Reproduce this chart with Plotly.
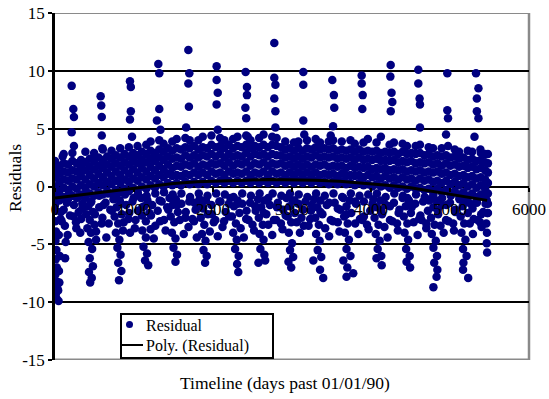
import plotly.graph_objects as go

# ---------------- data ----------------
# dense band of residuals: column day -> residual values
band_days = [0, 55, 110, 165, 220, 275, 330, 385, 440, 495, 550, 605, 660, 715, 770, 825, 880, 935, 990,
             1045, 1100, 1155, 1210, 1265, 1320, 1375, 1430, 1485, 1540, 1595, 1650, 1705, 1760, 1815, 1870,
             1925, 1980, 2035, 2090, 2145, 2200, 2255, 2310, 2365, 2420, 2475, 2530, 2585, 2640, 2695, 2750,
             2805, 2860, 2915, 2970, 3025, 3080, 3135, 3190, 3245, 3300, 3355, 3410, 3465, 3520, 3575, 3630,
             3685, 3740, 3795, 3850, 3905, 3960, 4015, 4070, 4125, 4180, 4235, 4290, 4345, 4400, 4455, 4510,
             4565, 4620, 4675, 4730, 4785, 4840, 4895, 4950, 5005, 5060, 5115, 5170, 5225, 5280, 5335, 5390,
             5445, 5480]
band_vals = [
    [-1.6, -0.8, 0.0, 0.8, 1.5, 2.2], [-1.2, -0.4, 0.4, 1.1, 1.8], [-0.9, -0.1, 0.6, 1.3, 2.0, 2.8],
    [-1.1, -0.3, 0.5, 1.2, 1.9], [-0.8, 0.0, 0.7, 1.4, 2.2, 2.9], [-1.0, -0.2, 0.6, 1.3, 2.0],
    [-0.7, 0.1, 0.9, 1.6, 2.3], [-0.9, -0.1, 0.6, 1.4, 2.1, 3.0], [-0.6, 0.2, 1.0, 1.7, 2.4],
    [-0.8, 0.0, 0.7, 1.5, 2.2, 2.9], [-0.5, 0.3, 1.1, 1.8, 2.5], [-0.7, 0.1, 0.8, 1.6, 2.3, 3.2],
    [-0.4, 0.4, 1.2, 1.9, 2.6], [-0.6, 0.2, 0.9, 1.7, 2.4, 3.1], [-0.3, 0.5, 1.3, 2.0, 2.7],
    [-0.5, 0.3, 1.0, 1.8, 2.5, 3.3], [-0.2, 0.6, 1.4, 2.1, 2.8], [-0.4, 0.4, 1.1, 1.9, 2.6, 3.4],
    [-0.1, 0.7, 1.5, 2.2, 2.9],
    [-0.3, 0.5, 1.2, 2.0, 2.7, 3.5], [0.0, 0.8, 1.6, 2.3, 3.0], [-0.2, 0.6, 1.3, 2.1, 2.8, 3.6],
    [0.1, 0.9, 1.7, 2.4, 3.1, 3.9], [-0.1, 0.7, 1.4, 2.2, 2.9], [0.2, 1.0, 1.8, 2.5, 3.2, 4.0],
    [0.0, 0.8, 1.5, 2.3, 3.0, 3.7], [0.3, 1.1, 1.9, 2.6, 3.3], [0.1, 0.9, 1.6, 2.4, 3.1, 3.9],
    [0.3, 1.0, 1.8, 2.5, 3.3, 4.1], [0.1, 0.9, 1.7, 2.4, 3.2], [0.4, 1.1, 1.9, 2.7, 3.4, 4.2],
    [0.2, 1.0, 1.8, 2.5, 3.3, 4.0], [0.4, 1.2, 2.0, 2.7, 3.5], [0.2, 1.0, 1.7, 2.5, 3.2, 4.0],
    [0.4, 1.2, 1.9, 2.7, 3.4, 4.3], [0.2, 1.0, 1.8, 2.6, 3.3], [0.5, 1.3, 2.0, 2.8, 3.6, 4.4],
    [0.3, 1.1, 1.9, 2.6, 3.4], [0.5, 1.2, 2.0, 2.8, 3.5, 4.2], [0.3, 1.0, 1.8, 2.5, 3.3, 4.0],
    [0.5, 1.3, 2.1, 2.8, 3.6], [0.3, 1.1, 1.8, 2.6, 3.3, 4.1], [0.5, 1.2, 2.0, 2.7, 3.5, 4.3],
    [0.3, 1.1, 1.9, 2.6, 3.4], [0.5, 1.3, 2.1, 2.9, 3.6, 4.4], [0.3, 1.0, 1.8, 2.6, 3.3, 4.0],
    [0.5, 1.2, 2.0, 2.8, 3.5], [0.3, 1.1, 1.9, 2.7, 3.4, 4.2], [0.5, 1.3, 2.1, 2.8, 3.6, 4.5],
    [0.3, 1.0, 1.8, 2.6, 3.4], [0.5, 1.3, 2.0, 2.8, 3.6, 4.3], [0.3, 1.1, 1.9, 2.7, 3.5, 4.2],
    [0.5, 1.2, 2.0, 2.7, 3.4], [0.3, 1.0, 1.8, 2.5, 3.2, 3.9], [0.5, 1.2, 1.9, 2.6, 3.3],
    [0.3, 1.0, 1.7, 2.4, 3.1, 3.8], [0.5, 1.2, 1.9, 2.6, 3.3, 3.9], [0.3, 1.0, 1.7, 2.4, 3.1],
    [0.5, 1.2, 1.9, 2.6, 3.3, 4.0], [0.3, 1.0, 1.7, 2.5, 3.2], [0.5, 1.2, 1.9, 2.7, 3.4, 4.1],
    [0.3, 1.0, 1.8, 2.5, 3.2, 3.8], [0.4, 1.1, 1.9, 2.6, 3.3], [0.2, 1.0, 1.7, 2.5, 3.2, 3.9],
    [0.4, 1.1, 1.8, 2.6, 3.3, 4.0], [0.2, 0.9, 1.7, 2.4, 3.1], [0.4, 1.1, 1.8, 2.5, 3.2, 3.9],
    [0.2, 0.9, 1.6, 2.4, 3.1], [0.3, 1.0, 1.8, 2.5, 3.2, 4.0], [0.1, 0.9, 1.6, 2.3, 3.0, 3.7],
    [0.3, 1.0, 1.7, 2.5, 3.2], [0.1, 0.8, 1.6, 2.3, 3.0, 3.8], [0.2, 1.0, 1.7, 2.4, 3.1, 4.1],
    [0.0, 0.8, 1.5, 2.3, 3.0], [0.2, 0.9, 1.6, 2.4, 3.1, 3.8], [0.0, 0.7, 1.5, 2.2, 2.9, 4.3],
    [0.1, 0.9, 1.6, 2.3, 3.0], [-0.1, 0.7, 1.4, 2.2, 2.9, 3.6], [0.1, 0.8, 1.5, 2.3, 3.0, 3.8],
    [-0.1, 0.6, 1.4, 2.1, 2.8], [0.0, 0.8, 1.5, 2.2, 3.0, 3.7], [-0.2, 0.6, 1.3, 2.1, 2.8, 3.5],
    [0.0, 0.7, 1.4, 2.2, 2.9], [-0.2, 0.5, 1.3, 2.0, 2.8, 3.5], [-0.1, 0.7, 1.4, 2.1, 2.9, 3.6],
    [-0.3, 0.5, 1.2, 2.0, 2.7], [-0.2, 0.6, 1.3, 2.1, 2.8, 3.4], [-0.4, 0.4, 1.2, 1.9, 2.6, 3.3],
    [-0.2, 0.5, 1.3, 2.0, 2.7], [-0.5, 0.3, 1.1, 1.8, 2.6, 3.3], [-0.3, 0.5, 1.2, 2.0, 2.7, 4.5],
    [-0.6, 0.2, 1.0, 1.8, 2.5], [-0.4, 0.4, 1.1, 1.9, 2.6, 3.2], [-0.7, 0.1, 0.9, 1.7, 2.4, 3.0],
    [-0.5, 0.3, 1.0, 1.8, 2.5], [-0.8, 0.0, 0.8, 1.6, 2.3, 3.1], [-0.6, 0.2, 0.9, 1.7, 2.4, 3.0],
    [-0.9, -0.1, 0.7, 1.5, 2.2], [-0.7, 0.1, 0.8, 1.6, 2.3, 2.9], [-1.0, -0.2, 0.6, 1.4, 2.1, 2.8],
    [-2.3, -1.5, -0.6, 0.3, 1.2, 2.0, 2.8],
]

# high outliers (yearly streaks)
hi_days = [211, 232, 240, 211, 240, 97,
           578, 585, 592, 592, 600,
           949, 960, 960, 949, 975,
           1308, 1320, 1320, 1290, 1335,
           1688, 1700, 1688, 1695, 1660,
           2046, 2046, 2060, 2046, 2060,
           2413, 2430, 2430, 2410, 2420, 2440,
           2776, 2776, 2790, 2776, 2790, 2790,
           3143, 3143, 3143, 3155,
           3510, 3530, 3535, 3520, 3490,
           3882, 3882, 3895, 3890,
           4249, 4245, 4260, 4270, 4250,
           4599, 4599, 4615, 4620, 4620,
           4966, 4966, 4975, 4975,
           5329, 5360, 5340, 5340, 5360, 5310, 5385]
hi_vals = [8.7, 6.7, 6.0, 4.7, 3.5, 2.6,
           7.8, 7.0, 6.0, 4.4, 3.3,
           9.1, 8.6, 6.5, 5.8, 4.3,
           10.6, 9.8, 6.7, 5.7, 4.9,
           11.8, 9.8, 8.9, 6.9, 5.1,
           10.4, 9.2, 8.1, 7.1, 4.9,
           9.9, 8.6, 7.9, 6.8, 5.9, 4.3,
           12.4, 9.4, 8.8, 7.6, 6.5, 5.1,
           9.9, 8.8, 5.7, 4.5,
           9.2, 7.9, 6.8, 5.2, 4.4,
           9.6, 8.9, 7.9, 6.7,
           10.5, 9.5, 8.1, 7.3, 6.5,
           10.1, 8.9, 7.6, 7.1, 5.1,
           9.8, 6.6, 5.9, 3.5,
           9.8, 8.5, 7.6, 6.5, 5.9, 4.3, 3.2]

# low residuals (yearly streaks and scatter below zero)
lo_days = [3, 8, 4, 12, 6, 18, 9, 24, 5, 16, 30, 10, 22, 45, 40, 55, 50, 60, 48, 70, 110, 125, 135, 128, 150, 190, 240, 265, 300, 320, 345,
           380, 420, 460, 395, 440, 480, 410, 455, 500, 425, 470, 440, 480, 430, 465, 445, 520, 560, 600, 640, 680, 700,
           740, 780, 820, 755, 800, 845, 770, 815, 790, 830, 800, 840, 810, 860, 900, 930, 980, 1010, 1050,
           1090, 1130, 1170, 1100, 1150, 1195, 1105, 1150, 1120, 1165, 1140, 1180, 1230, 1270, 1300, 1350, 1380, 1420,
           1450, 1490, 1530, 1465, 1510, 1555, 1480, 1525, 1500, 1545, 1525, 1600, 1650, 1700, 1760, 1795, 1780, 1820,
           1830, 1870, 1910, 1845, 1890, 1935, 1860, 1905, 1880, 1920, 1900, 1980, 2030, 2080, 2120, 2160, 2200,
           2220, 2265, 2310, 2240, 2290, 2335, 2255, 2300, 2280, 2325, 2305, 2320, 2370, 2420, 2470, 2500, 2540,
           2570, 2610, 2650, 2580, 2630, 2675, 2590, 2640, 2600, 2650, 2575, 2660, 2720, 2770, 2820, 2860, 2890,
           2930, 2970, 3010, 2945, 2990, 3035, 2960, 3000, 2975, 3015, 2955, 2990, 3080, 3120, 3170, 3210, 3240,
           3280, 3320, 3360, 3295, 3340, 3385, 3305, 3350, 3325, 3370, 3270, 3355, 3395, 3440, 3490, 3540, 3580, 3610,
           3650, 3690, 3730, 3660, 3705, 3750, 3670, 3720, 3690, 3740, 3650, 3700, 3690, 3775, 3810, 3860, 3910, 3950, 3990,
           4030, 4075, 4120, 4045, 4095, 4140, 4060, 4110, 4085, 4130, 4070, 4135, 4190, 4240, 4290, 4330, 4360,
           4400, 4440, 4480, 4415, 4460, 4505, 4425, 4470, 4445, 4490, 4450, 4495, 4560, 4610, 4660, 4700, 4720,
           4750, 4790, 4830, 4760, 4805, 4850, 4770, 4820, 4790, 4835, 4800, 4840, 4830, 4790, 4900, 4950, 5000, 5040, 5070,
           5120, 5160, 5200, 5135, 5180, 5225, 5145, 5195, 5165, 5210, 5170, 5165, 5230, 5260, 5300, 5340, 5380, 5420,
           5465, 5470, 5460, 5468, 5465, 5470]
lo_vals = [-1.2, -2.1, -3.0, -3.9, -4.7, -5.5, -6.3, -7.0, -7.6, -8.2, -8.8, -9.3, -9.7, -9.9, -9.0, -8.3, -7.3, -6.0, -4.2, -2.8, -2.0, -3.4, -4.8, -6.2, -1.4, -2.5, -1.6, -3.1, -2.2, -4.0, -1.5,
           -1.0, -1.7, -1.3, -2.4, -2.9, -2.2, -3.6, -4.0, -3.3, -4.8, -5.4, -6.2, -6.9, -7.4, -7.9, -8.3, -4.6, -1.8, -2.7, -1.4, -3.2, -2.0,
           -1.1, -1.8, -1.2, -2.6, -3.2, -2.4, -4.0, -4.6, -5.3, -5.9, -6.6, -7.3, -8.1, -3.8, -1.6, -2.8, -1.3, -3.6, -2.1,
           -1.0, -1.7, -1.2, -2.5, -3.0, -2.3, -3.8, -4.4, -5.2, -5.8, -6.4, -6.8, -1.6, -3.4, -2.1, -1.3, -2.9, -1.8,
           -1.0, -1.6, -1.1, -2.6, -3.1, -2.2, -4.0, -4.5, -5.3, -5.9, -6.5, -1.5, -2.7, -1.3, -3.0, -4.4, -2.0, -1.4,
           -1.1, -1.8, -1.2, -2.7, -3.3, -2.4, -4.1, -4.7, -5.5, -6.0, -6.6, -1.6, -2.9, -1.3, -3.5, -2.2, -1.5,
           -1.0, -1.7, -1.2, -2.6, -3.2, -2.3, -4.0, -4.6, -5.4, -6.0, -6.7, -7.4, -1.5, -2.8, -1.4, -3.3, -2.1,
           -1.1, -1.8, -1.2, -2.7, -3.3, -2.4, -4.1, -4.6, -5.4, -5.9, -6.6, -6.4, -1.6, -2.9, -1.4, -3.2, -2.0,
           -1.0, -1.7, -1.2, -2.6, -3.1, -2.3, -4.0, -4.9, -5.5, -6.1, -6.5, -7.0, -1.5, -2.7, -1.3, -3.4, -2.1,
           -1.1, -1.8, -1.2, -2.7, -3.3, -2.4, -4.1, -4.7, -5.5, -6.1, -6.4, -7.2, -7.9, -1.6, -2.9, -1.4, -3.1, -2.0,
           -1.0, -1.7, -1.2, -2.6, -3.2, -2.3, -4.0, -4.6, -5.4, -6.0, -6.4, -7.0, -7.8, -7.5, -1.5, -2.8, -1.3, -3.3, -2.1,
           -1.1, -1.8, -1.2, -2.7, -3.3, -2.4, -4.1, -4.7, -5.4, -6.0, -6.2, -6.8, -1.6, -2.9, -1.4, -3.2, -2.0,
           -1.0, -1.7, -1.2, -2.6, -3.2, -2.3, -4.0, -4.6, -5.4, -6.0, -6.5, -7.0, -1.5, -2.8, -1.3, -3.2, -2.1,
           -1.1, -1.8, -1.2, -2.7, -3.3, -2.4, -4.1, -4.7, -5.3, -6.0, -6.6, -7.2, -7.8, -8.7, -1.6, -2.9, -1.4, -3.2, -2.0,
           -1.0, -1.7, -1.2, -2.6, -3.2, -2.3, -4.0, -4.6, -5.4, -6.0, -6.6, -7.2, -7.9, -1.5, -2.8, -1.4, -3.1, -2.2,
           -1.2, -2.3, -3.2, -4.0, -4.9, -5.7]

# extra scatter just below zero
mid_days = [20, 75, 130, 180, 235, 290, 345, 395, 450, 505, 560, 615, 670, 720, 775, 830, 885, 940, 995, 1050,
            1105, 1160, 1215, 1270, 1325, 1380, 1435, 1490, 1545, 1600, 1655, 1710, 1765, 1820, 1875, 1930, 1985, 2040, 2095, 2150,
            2205, 2260, 2315, 2370, 2425, 2480, 2535, 2590, 2645, 2700, 2755, 2810, 2865, 2920, 2975, 3030, 3085, 3140, 3195, 3250,
            3305, 3360, 3415, 3470, 3525, 3580, 3635, 3690, 3745, 3800, 3855, 3910, 3965, 4020, 4075, 4130, 4185, 4240, 4295, 4350,
            4405, 4460, 4515, 4570, 4625, 4680, 4735, 4790, 4845, 4900, 4955, 5010, 5065, 5120, 5175, 5230, 5285, 5340, 5395, 5450]
mid_vals = [-0.7, -2.2, -1.1, -0.6, -2.6, -0.9, -1.9, -0.5, -1.4, -2.4,
            -0.8, -1.6, -0.6, -2.1, -0.9, -1.5, -0.7, -2.3, -1.0, -0.6,
            -1.8, -0.8, -2.5, -0.6, -1.2, -0.5, -2.0, -0.7, -1.6, -0.6,
            -2.2, -0.9, -1.4, -0.6, -1.9, -0.8, -2.4, -0.6, -1.3, -0.7,
            -2.6, -0.9, -1.5, -0.6, -2.1, -0.8, -1.7, -0.6, -2.3, -1.0,
            -0.6, -1.8, -0.8, -2.5, -0.6, -1.2, -0.7, -2.0, -0.9, -1.6,
            -0.6, -2.2, -0.8, -1.4, -0.6, -1.9, -0.9, -2.4, -0.6, -1.3,
            -0.8, -2.6, -0.7, -1.5, -0.6, -2.1, -0.9, -1.7, -0.6, -2.3,
            -0.8, -1.0, -1.8, -0.7, -2.5, -0.9, -1.2, -0.7, -2.0, -1.0,
            -1.6, -0.8, -2.2, -1.1, -1.4, -0.9, -1.9, -1.2, -2.4, -1.5]

# deeper scatter between the yearly streaks
deep_days = [85, 160, 270, 330, 520, 590, 650, 870, 950, 1020, 1210, 1250, 1330, 1400, 1580, 1630, 1690, 1740,
             1960, 2010, 2060, 2140, 2350, 2390, 2450, 2520, 2700, 2750, 2800, 2880, 3060, 3100, 3150, 3230,
             3420, 3470, 3520, 3600, 3800, 3840, 3890, 3970, 4170, 4210, 4270, 4340, 4540, 4590, 4640, 4700,
             4880, 4920, 4980, 5050, 5250, 5290, 5350, 5400]
deep_vals = [-3.0, -4.2, -3.6, -2.8, -3.9, -3.2, -4.4, -3.1, -4.0, -2.9, -3.7, -4.5, -3.0, -3.8, -2.9, -4.1, -3.5, -2.8,
             -3.9, -3.1, -4.3, -3.0, -3.6, -4.4, -2.9, -3.8, -3.3, -4.2, -2.9, -3.7, -3.1, -4.0, -3.4, -2.8,
             -3.6, -4.3, -3.0, -3.9, -3.2, -4.1, -2.9, -3.7, -3.5, -4.4, -3.0, -3.8, -3.1, -4.2, -2.9, -3.6,
             -3.4, -4.0, -3.0, -3.8, -3.2, -4.1, -2.9, -3.5]

# polynomial trend line (read at a few days)
trend_days = [0, 300, 600, 900, 1200, 1500, 1800, 2100, 2400, 2700, 3000, 3300, 3600, 3900, 4200, 4500, 4800, 5100, 5470]
trend_vals = [-1.0, -0.75, -0.5, -0.2, 0.05, 0.25, 0.4, 0.5, 0.55, 0.6, 0.6, 0.55, 0.45, 0.3, 0.1, -0.1, -0.45, -0.8, -1.2]

y_ticks = [-15, -10, -5, 0, 5, 10, 15]
y_tick_text = ["-15", "-10", "-5", "0", "5", "10", "15"]
x_ticks = [0, 1000, 2000, 3000, 4000, 5000, 6000]
x_tick_text = ["0", "1000", "2000", "3000", "4000", "5000", "6000"]
legend_labels = ["Residual", "Poly. (Residual)"]

# ---------------- build ----------------
res_x, res_y = [], []
for d, vals in zip(band_days, band_vals):
    for v in vals:
        res_x.append(d)
        res_y.append(v)
for xs, ys in ((lo_days, lo_vals), (mid_days, mid_vals), (deep_days, deep_vals), (hi_days, hi_vals)):
    res_x += list(xs)
    res_y += list(ys)

FONT = "Liberation Serif"
NAVY = "#000080"

fig = go.Figure()
fig.add_trace(go.Scatter(
    x=res_x, y=res_y, mode="markers", name=legend_labels[0],
    marker=dict(color=NAVY, size=8.5, line=dict(width=0)), showlegend=False,
))
fig.add_trace(go.Scatter(
    x=trend_days, y=trend_vals, mode="lines", name=legend_labels[1],
    line=dict(color="black", width=3), showlegend=False,
))

# plot-area geometry (pixels) used to place the Excel-style legend box
L, T, W, H = 55, 13, 474, 347


def px(x):
    return (x - L) / W


def py(y):
    return (T + H - y) / H


legend_shapes = [
    dict(type="rect", xref="paper", yref="paper", x0=px(121), x1=px(273), y0=py(358), y1=py(314),
         line=dict(color="black", width=2), fillcolor="white", layer="above"),
    dict(type="circle", xref="paper", yref="paper", x0=px(126), x1=px(133), y0=py(328), y1=py(321),
         line=dict(width=0), fillcolor=NAVY, layer="above"),
    dict(type="line", xref="paper", yref="paper", x0=px(122), x1=px(143), y0=py(345), y1=py(345),
         line=dict(color="black", width=2), layer="above"),
]

fig.update_layout(
    width=549, height=399,
    margin=dict(l=L, r=549 - L - W, t=T, b=399 - T - H, autoexpand=False),
    paper_bgcolor="white", plot_bgcolor="white",
    font=dict(family=FONT, size=17, color="black"),
    showlegend=False,
    xaxis=dict(
        range=[0, 6000], anchor="free", position=0.5, automargin=False,
        tickvals=x_ticks, ticktext=x_tick_text,
        showgrid=False, zeroline=False, showline=False,
        ticks="outside", ticklen=4, tickwidth=1.5, tickcolor="black",
        ticklabelstandoff=3,
        tickfont=dict(family=FONT, size=17, color="black"),
    ),
    yaxis=dict(
        range=[-15, 15], tickvals=y_ticks, ticktext=y_tick_text, automargin=False,
        showgrid=True, gridcolor="black", gridwidth=2,
        zeroline=False, showline=True, linecolor="black", linewidth=2.5,
        ticks="outside", ticklen=4, tickwidth=2, tickcolor="black",
        tickfont=dict(family=FONT, size=17, color="black"),
    ),
    shapes=[
        dict(type="line", xref="paper", yref="y", x0=0, x1=1, y0=15, y1=15,
             line=dict(color="#8a8a8a", width=2), layer="below"),
        dict(type="line", xref="paper", yref="y", x0=0, x1=1, y0=-15, y1=-15,
             line=dict(color="#8a8a8a", width=3), layer="below"),
        dict(type="line", xref="paper", yref="paper", x0=1, x1=1, y0=0, y1=1,
             line=dict(color="#8a8a8a", width=2.5), layer="below"),
    ] + legend_shapes,
    annotations=[
        dict(text="Residuals", xref="paper", yref="paper", x=px(15), y=py(178),
             xanchor="center", yanchor="middle",
             textangle=-90, showarrow=False, font=dict(family=FONT, size=17.5, color="black")),
        dict(text="Timeline (days past 01/01/90)", xref="paper", yref="paper", x=px(285), y=py(383),
             xanchor="center", yanchor="middle",
             showarrow=False, font=dict(family=FONT, size=17.5, color="black")),
        dict(text=legend_labels[0], xref="paper", yref="paper", x=px(144), y=py(325),
             xanchor="left", yanchor="middle", showarrow=False,
             font=dict(family=FONT, size=16, color="black")),
        dict(text=legend_labels[1], xref="paper", yref="paper", x=px(144), y=py(346),
             xanchor="left", yanchor="middle", showarrow=False,
             font=dict(family=FONT, size=16, color="black")),
    ],
)

fig.write_html("out.html")
